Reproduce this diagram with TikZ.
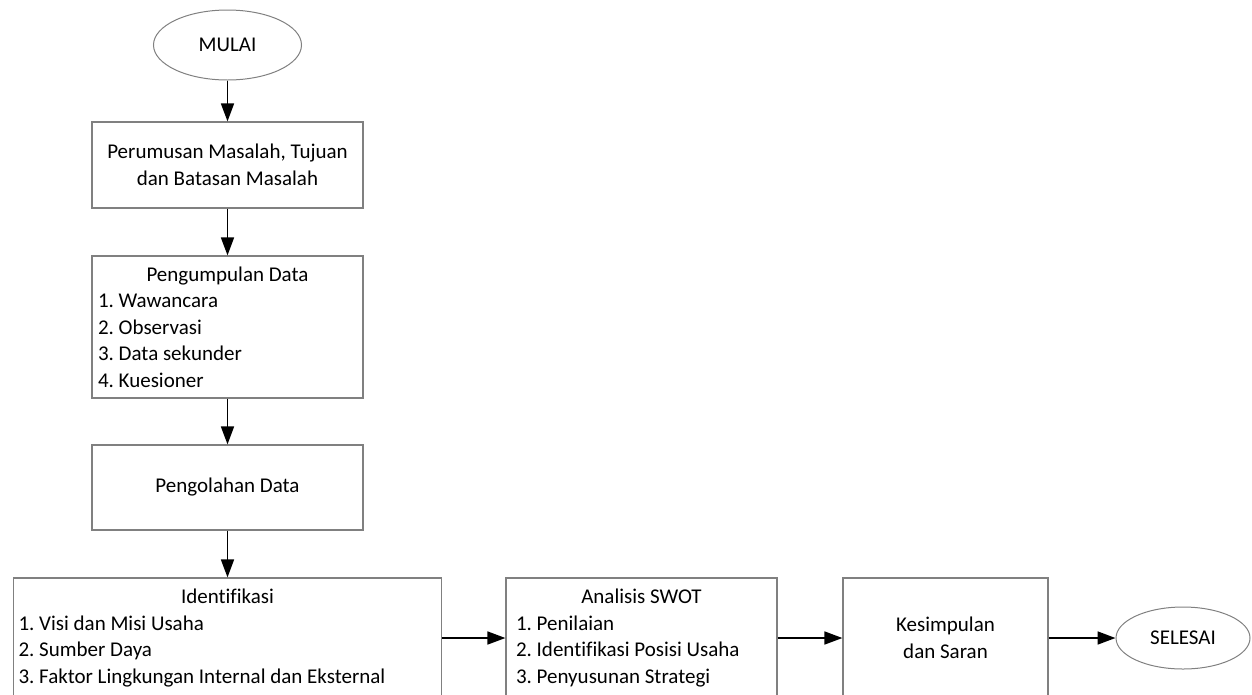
\documentclass[tikz,border=0pt]{standalone}
\usepackage{fontspec}
\setmainfont[Ligatures=NoCommon]{Carlito}
\usetikzlibrary{arrows.meta, shapes.geometric}
\frenchspacing

\begin{document}
\begin{tikzpicture}[x=1pt,y=-1pt,->,>={Triangle[length=18pt,width=13pt]},line width=1.7pt,
                    font=\fontsize{21}{26.5}\selectfont,
                    box node/.style={rectangle,draw=gray,line width=1.2pt,inner sep=0pt,align=center},
                    list node/.style={box node,align=flush left,inner xsep=6pt,inner ysep=0pt},
                    end node/.style={ellipse,draw=gray,line width=1pt,inner sep=0pt}]

  \clip (0,0) rectangle (1252,694);

  \node[end node, minimum width=148, minimum height=70] (1) at (227.5,45) {MULAI};
  \node[box node, minimum width=271, minimum height=86] (2) at (227.5,165)
       {Perumusan Masalah, Tujuan\\dan Batasan Masalah};
  \node[list node, text width=259, minimum height=142] (3) at (227.5,327)
       {\makebox[\linewidth]{Pengumpulan Data}\\1. Wawancara\\2. Observasi\\3. Data sekunder\\4. Kuesioner};
  \node[box node, minimum width=271, minimum height=85] (4) at (227.5,487.5) {Pengolahan Data};
  \node[list node, inner xsep=5pt, text width=418, minimum height=120] (5) at (227.5,638)
       {\makebox[\linewidth]{Identifikasi}\\1. Visi dan Misi Usaha\\2. Sumber Daya\\3. Faktor Lingkungan Internal dan Eksternal};
  \node[list node, inner xsep=10pt, text width=251, minimum height=120] (6) at (641.5,638)
       {\makebox[\linewidth]{Analisis SWOT}\\1. Penilaian\\2. Identifikasi Posisi Usaha\\3. Penyusunan Strategi};
  \node[box node, minimum width=205, minimum height=120] (7) at (945.5,638) {Kesimpulan\\dan Saran};
  \node[end node, minimum width=134, minimum height=62] (8) at (1183,638) {SELESAI};

   \path
     (1) edge (2)
     (2) edge (3)
     (3) edge (4)
     (4) edge (5)
     (5) edge (6)
     (6) edge (7)
     (7) edge (8);
\end{tikzpicture}
\end{document}
